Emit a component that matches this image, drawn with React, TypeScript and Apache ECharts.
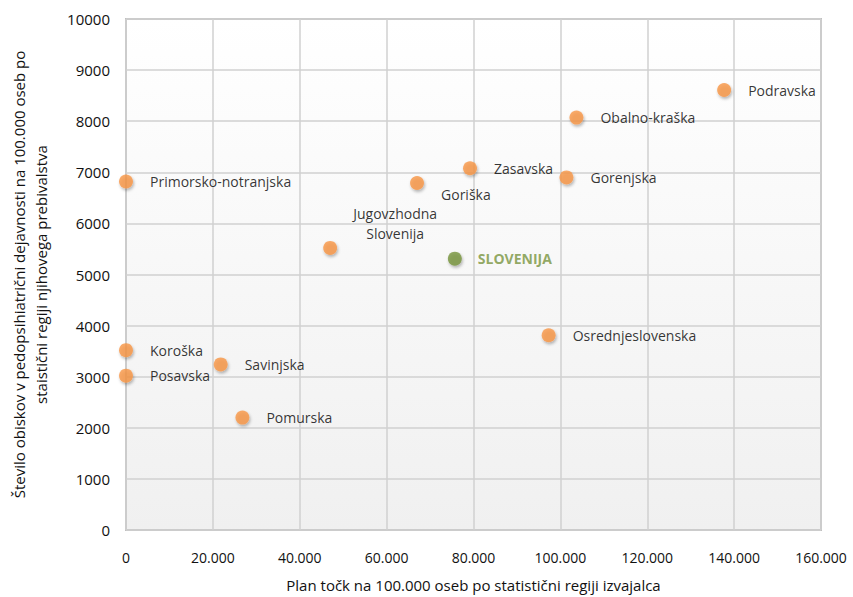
import React, { useEffect, useRef } from "react";
import * as echarts from "echarts";

const regions = [
  "Primorsko-notranjska",
  "Goriška",
  "Zasavska",
  "Jugovzhodna\nSlovenija",
  "Podravska",
  "Obalno-kraška",
  "Gorenjska",
  "Osrednjeslovenska",
  "Koroška",
  "Posavska",
  "Savinjska",
  "Pomurska",
];
const planPoints = [0, 67000, 79200, 47000, 137700, 103700, 101400, 97300, 0, 0, 21800, 26800];
const visits = [6820, 6790, 7080, 5520, 8610, 8070, 6900, 3810, 3520, 3020, 3240, 2200];

const sloveniaName = "SLOVENIJA";
const sloveniaPlan = 75700;
const sloveniaVisits = 5310;

const xTicks = [0, 20000, 40000, 60000, 80000, 100000, 120000, 140000, 160000];

const FONT = "'Open Sans', sans-serif";

function fmtX(v: number): string {
  return String(v).replace(/\B(?=(\d{3})+(?!\d))/g, ".");
}

export default function App() {
  const ref = useRef<HTMLDivElement>(null);
  useEffect(() => {
    if (!ref.current) return;
    const chart = echarts.init(ref.current, undefined, { renderer: "svg" });
    const shadow = {
      shadowBlur: 3,
      shadowColor: "rgba(0,0,0,0.35)",
      shadowOffsetX: 1,
      shadowOffsetY: 2,
    };
    const data = regions.map((name, i) => {
      const item: any = { name, value: [planPoints[i], visits[i]] };
      if (name === "Goriška") {
        item.label = { position: "right", offset: [0, 11] };
      } else if (name.startsWith("Jugovzhodna")) {
        item.label = { position: "inside", align: "center", offset: [65, -24], lineHeight: 20 };
      }
      return item;
    });
    chart.setOption({
      animation: false,
      textStyle: { fontFamily: FONT },
      grid: {
        left: 123,
        top: 19,
        right: 32,
        bottom: 65,
        show: true,
        borderColor: "#bfbfbf",
        borderWidth: 2,
        backgroundColor: new echarts.graphic.LinearGradient(0, 0, 0, 1, [
          { offset: 0, color: "#ffffff" },
          { offset: 1, color: "#f0f0f0" },
        ]),
      },
      xAxis: {
        type: "value",
        min: 0,
        max: 160000,
        interval: 20000,
        name: "Plan točk na 100.000 oseb po statistični regiji izvajalca",
        nameLocation: "middle",
        nameGap: 47,
        nameTextStyle: { fontSize: 15, color: "#111", fontFamily: FONT },
        axisLine: { show: false },
        axisTick: { show: false },
        axisLabel: {
          margin: 20,
          fontSize: 14,
          color: "#111",
          fontFamily: FONT,
          formatter: (v: number) => fmtX(v),
          customValues: xTicks,
        },
        splitLine: { lineStyle: { color: "#d0d0d0", width: 1.5 } },
      },
      yAxis: {
        type: "value",
        min: 0,
        max: 10000,
        interval: 1000,
        name: "Število obiskov v pedopsihiatrični dejavnosti na 100.000 oseb po\nstaistični regiji njihovega prebivalstva",
        nameLocation: "middle",
        nameGap: 74,
        nameTextStyle: { fontSize: 15, color: "#111", fontFamily: FONT, lineHeight: 22, align: "center" },
        axisLine: { show: false },
        axisTick: { show: false },
        axisLabel: {
          margin: 16,
          fontSize: 15,
          color: "#111",
          fontFamily: FONT,
          formatter: (v: number) => String(v),
        },
        splitLine: { lineStyle: { color: "#d0d0d0", width: 1.5 } },
      },
      series: [
        {
          type: "scatter",
          symbolSize: 14,
          data,
          itemStyle: { color: "#F79646", ...shadow },
          label: {
            show: true,
            position: "right",
            distance: 17,
            formatter: "{b}",
            fontSize: 14,
            color: "#000",
            fontFamily: FONT,
          },
        },
        {
          type: "scatter",
          symbolSize: 14,
          data: [{ name: sloveniaName, value: [sloveniaPlan, sloveniaVisits] }],
          itemStyle: { color: "#77933C", ...shadow },
          label: {
            show: true,
            position: "right",
            distance: 16,
            formatter: "{b}",
            fontSize: 14,
            fontWeight: "bold",
            color: "#77933C",
            fontFamily: FONT,
          },
        },
      ],
    });
    return () => chart.dispose();
  }, []);
  return (
    <div
      ref={ref}
      style={{ position: "fixed", left: 0, top: 0, width: 853, height: 597, background: "#ffffff" }}
    />
  );
}
